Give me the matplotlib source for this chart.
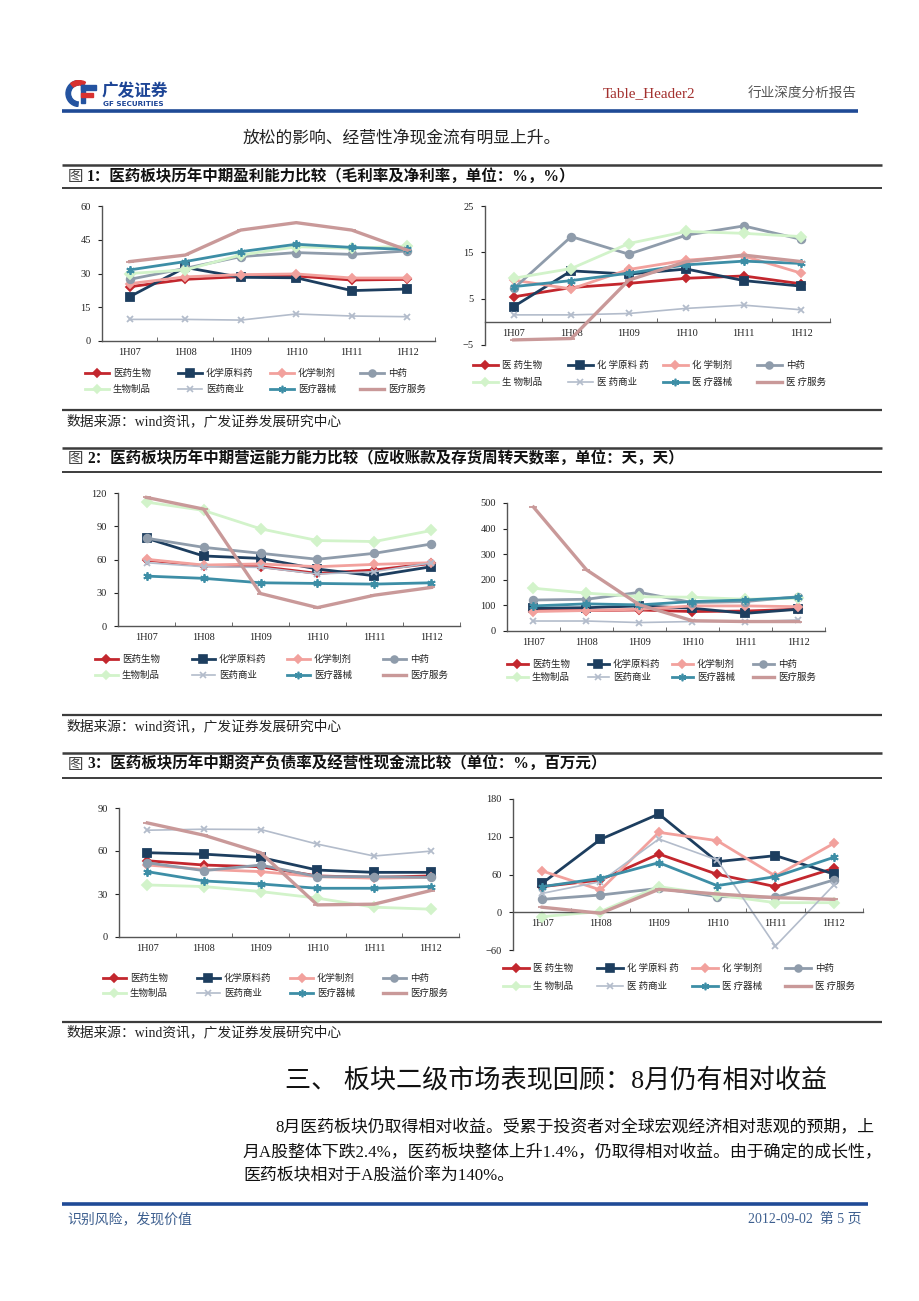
import numpy as np
import matplotlib.pyplot as plt
from matplotlib.lines import Line2D
from matplotlib.patches import Wedge, Rectangle

plt.rcParams['font.family'] = ['Liberation Serif', 'Noto Sans CJK SC', 'DejaVu Sans']

W, H = 920, 1301

periods = ['1H07', '1H08', '1H09', '1H10', '1H11', '1H12']
sectors = ['医药生物', '化学原料药', '化学制剂', '中药', '生物制品', '医药商业', '医疗器械', '医疗服务']
# some legends in the source have stray spaces
sectors_spaced = ['医 药生物', '化 学原料 药', '化 学制剂', '中药', '生 物制品', '医 药商业', '医 疗器械', '医 疗服务']

# 图1 left: gross margin %
gross_margin = [
    [24.1, 27.4, 28.6, 28.9, 27.1, 27.4],
    [19.7, 32.7, 28.3, 28.1, 22.4, 23.1],
    [25.5, 28.5, 29.5, 29.8, 28.0, 28.0],
    [27.4, 32.3, 37.5, 39.3, 38.5, 40.0],
    [30.0, 31.6, 38.2, 41.9, 41.2, 42.2],
    [9.6, 9.6, 9.3, 12.0, 11.1, 10.8],
    [31.6, 35.3, 39.7, 43.0, 41.6, 40.7],
    [35.3, 38.2, 49.3, 52.6, 49.3, 40.4],
]
# 图1 right: net margin %
net_margin = [
    [5.4, 7.4, 8.3, 9.4, 9.9, 8.2],
    [3.3, 11.0, 10.3, 11.4, 8.9, 7.7],
    [9.0, 7.1, 11.3, 13.3, 14.2, 10.5],
    [7.2, 18.4, 14.6, 18.7, 20.7, 17.8],
    [9.4, 11.5, 16.9, 19.5, 19.1, 18.4],
    [1.5, 1.5, 1.8, 2.9, 3.6, 2.6],
    [7.6, 8.9, 10.5, 12.3, 13.1, 12.6],
    [-3.9, -3.6, 9.0, 13.0, 14.4, 13.0],
]
# 图2 left: receivable turnover days
receivable_days = [
    [59.5, 54.4, 53.5, 47.5, 50.5, 56.5],
    [79.2, 63.2, 61.0, 51.4, 45.3, 53.5],
    [60.2, 55.0, 56.0, 53.5, 55.6, 57.1],
    [79.2, 71.0, 65.6, 60.2, 65.6, 74.0],
    [111.8, 104.3, 87.7, 77.1, 76.2, 86.2],
    [57.1, 53.5, 52.9, 46.9, 49.0, 57.0],
    [45.0, 43.0, 39.0, 38.4, 37.8, 39.0],
    [116.0, 105.5, 29.3, 16.6, 27.8, 34.8],
]
# 图2 right: inventory turnover days
inventory_days = [
    [80, 80, 82, 76, 78, 85],
    [89, 91, 98, 89, 69, 85],
    [76, 80, 85, 98, 98, 95],
    [121, 124, 151, 111, 115, 134],
    [167, 148, 134, 132, 124, 128],
    [39, 39, 33, 37, 37, 43],
    [98, 106, 102, 115, 121, 132],
    [484, 239, 102, 40, 37, 37],
]
# 图3 left: debt ratio %
debt_ratio = [
    [53.2, 50.2, 49.0, 42.6, 41.6, 42.6],
    [58.8, 57.8, 55.5, 46.7, 45.1, 45.1],
    [50.2, 47.2, 45.6, 42.1, 41.0, 41.6],
    [51.8, 46.3, 50.2, 42.1, 42.1, 41.6],
    [36.3, 35.2, 31.7, 27.1, 20.8, 19.4],
    [74.5, 75.2, 75.0, 64.8, 56.5, 59.9],
    [45.6, 39.1, 37.0, 34.0, 34.0, 35.2],
    [79.6, 71.0, 58.8, 22.4, 22.9, 32.4],
]
# 图3 right: operating cash flow, 百万元
cash_flow = [
    [40.7, 51.3, 92.6, 60.3, 40.7, 69.8],
    [46.0, 115.9, 156.2, 80.4, 90.0, 60.8],
    [65.6, 35.4, 127.0, 113.8, 57.6, 109.5],
    [20.5, 27.4, 38.0, 24.9, 23.8, 51.3],
    [-6.9, 1.1, 40.7, 27.4, 15.2, 15.2],
    [30.0, 48.6, 116.4, 83.0, -53.6, 43.3],
    [40.7, 53.9, 78.8, 42.3, 56.6, 87.3],
    [8.0, -1.6, 36.4, 29.0, 23.2, 20.5],
]

colors = ['#c3272e', '#1d3e5f', '#f2a19d', '#8f9cab', '#d2f3ca', '#b3bccb', '#3d8ea6', '#c99999']
markers = ['D', 's', 'D', 'o', 'D', 'x', (6, 2, 0), '_']
msizes = [4, 6, 4, 5.5, 5, 5, 6, 6]
lwidths = [2, 2, 2, 2, 2, 1.2, 2, 2.4]

fig = plt.figure(figsize=(9.2, 13.01), dpi=100)


def fx(x):
    return x / W


def fy(y):
    return 1 - y / H


def hline(y, x0, x1, lw, color):
    fig.add_artist(Line2D([fx(x0), fx(x1)], [fy(y), fy(y)], lw=lw, color=color,
                          transform=fig.transFigure, solid_capstyle='butt'))


def chart(left, right, top, bottom, data, ylim, yticks, zero_axis=False):
    ax = fig.add_axes([fx(left), fy(bottom), (right - left) / W, (bottom - top) / H])
    x = np.arange(len(periods))
    for i, vals in enumerate(data):
        ax.plot(x, vals, color=colors[i], lw=lwidths[i], marker=markers[i], ms=msizes[i],
                mfc=colors[i], mec=colors[i], mew=1.3, zorder=2 + i * 0.1)
    ax.set_xlim(-0.5, 5.5)
    ax.set_ylim(*ylim)
    ax.set_yticks(yticks)
    ax.set_xticks(x)
    ax.set_xticklabels(periods)
    ax.set_xticks(np.arange(-0.5, 6), minor=True)
    for s in ['top', 'right']:
        ax.spines[s].set_visible(False)
    for s in ['left', 'bottom']:
        ax.spines[s].set_color('#555555')
        ax.spines[s].set_linewidth(1)
    if zero_axis:
        ax.spines['bottom'].set_position(('data', 0))
    ax.tick_params(axis='x', which='major', length=0, pad=5, labelsize=7.5, colors='#222222')
    ax.tick_params(axis='x', which='minor', length=3, direction='in', color='#555555')
    ax.tick_params(axis='y', length=3, pad=5, labelsize=7.5, colors='#222222')
    ax.patch.set_alpha(0)
    return ax


def legend(line_x, text_dx, rows_y, labels):
    for i, lab in enumerate(labels):
        r, c = divmod(i, 4)
        x0 = line_x[c]
        y0 = rows_y[r]
        L = text_dx - 4
        fig.add_artist(Line2D([fx(x0), fx(x0 + L / 2), fx(x0 + L)], [fy(y0)] * 3,
                              transform=fig.transFigure, color=colors[i], lw=lwidths[i],
                              marker=markers[i], ms=msizes[i] * 0.9, markevery=[1],
                              mfc=colors[i], mec=colors[i], mew=1.2))
        fig.text(fx(x0 + text_dx), fy(y0), lab, fontsize=6.8, va='center', ha='left',
                 color='#222222', family=['Noto Sans CJK SC', 'DejaVu Sans'])


# ---- header ----
logo = fig.add_axes([fx(64), fy(107), 38 / W, 27 / H])
logo.set_xlim(0, 38)
logo.set_ylim(0, 27)
logo.axis('off')
logo.add_patch(Wedge((15, 13.5), 13, 95, 265, width=4.5, color='#2453a0'))
logo.add_patch(Wedge((15, 13.5), 13, 60, 130, width=4.5, color='#d8312f'))
logo.add_patch(Rectangle((17, 4), 4.5, 18, color='#2453a0'))
logo.add_patch(Rectangle((17, 17.5), 15, 4.5, color='#2453a0'))
logo.add_patch(Rectangle((17, 10.5), 12, 4, color='#d8312f'))
fig.text(fx(102), fy(91.5), '广发证券', fontsize=12, weight='bold', color='#1d4596',
         va='center', ha='left', family=['Noto Sans CJK SC'])
fig.text(fx(103), fy(104), 'GF SECURITIES', fontsize=5.2, weight='bold', color='#1d4596',
         va='center', ha='left', family=['DejaVu Sans'])
fig.text(fx(603), fy(94), 'Table_Header2', fontsize=11, color='#a3302e', va='center', ha='left')
fig.text(fx(748), fy(94), '行业深度分析报告', fontsize=9.8, color='#555555', va='center', ha='left',
         family=['Noto Sans CJK SC'])
hline(110.5, 62, 858, 2.6, '#1f4a96')

fig.text(fx(243), fy(138), '放松的影响、经营性净现金流有明显上升。', fontsize=12.1, color='#222222',
         va='center', ha='left', family=['Noto Sans CJK SC'])


def title_block(y_top, y_text, y_bot, num, text):
    hline(y_top, 62, 882, 1.8, '#3c3c3c')
    hline(y_bot, 62, 882, 1.4, '#3c3c3c')
    fig.text(fx(68), fy(y_text), '图', fontsize=11.2, color='#444444', va='center', ha='left',
             family=['Noto Sans CJK SC'])
    fig.text(fx(87), fy(y_text), num + '：' + text, fontsize=11.2, weight='bold', color='#111111',
             va='center', ha='left', family=['Liberation Serif', 'Noto Sans CJK SC'])


def source_block(y_rule, y_text):
    hline(y_rule, 62, 882, 1.6, '#3c3c3c')
    fig.text(fx(67), fy(y_text), '数据来源：wind资讯，广发证券发展研究中心', fontsize=9.9,
             color='#222222', va='center', ha='left')


# ---- figure 1 ----
title_block(165, 176.5, 188, '1', '医药板块历年中期盈利能力比较（毛利率及净利率，单位：%，%）')
chart(102, 435, 206, 341, gross_margin, (0, 60), [0, 15, 30, 45, 60])
legend([85, 178, 270, 360], 28, [373, 389], sectors)
chart(485, 830, 206, 345, net_margin, (-5, 25), [-5, 5, 15, 25], zero_axis=True)
legend([473, 568, 663, 757], 29, [365, 382], sectors_spaced)
source_block(410, 421)

# ---- figure 2 ----
title_block(448, 458.5, 472, '2', '医药板块历年中期营运能力能力比较（应收账款及存货周转天数率，单位：天，天）')
chart(118, 460, 493, 626, receivable_days, (0, 120), [0, 30, 60, 90, 120])
legend([95, 192, 287, 383], 27, [659, 675], sectors)
chart(507, 825, 503, 631, inventory_days, (0, 500), [0, 100, 200, 300, 400, 500])
legend([507, 588, 672, 753], 25, [664, 677], sectors)
source_block(715, 726)

# ---- figure 3 ----
title_block(753, 764, 777.5, '3', '医药板块历年中期资产负债率及经营性现金流比较（单位：%，百万元）')
chart(119, 459, 808, 937, debt_ratio, (0, 90), [0, 30, 60, 90])
legend([103, 197, 290, 383], 27, [978, 993], sectors)
chart(513, 863, 799, 950, cash_flow, (-60, 180), [-60, 0, 60, 120, 180], zero_axis=True)
legend([503, 597, 692, 785], 30, [968, 986], sectors_spaced)
source_block(1022, 1032)

# ---- section text ----
fig.text(fx(285), fy(1080), '三、 板块二级市场表现回顾：8月仍有相对收益', fontsize=18.8, color='#111111',
         va='center', ha='left')
para = ['8月医药板块仍取得相对收益。受累于投资者对全球宏观经济相对悲观的预期，上',
        '月A股整体下跌2.4%，医药板块整体上升1.4%，仍取得相对收益。由于确定的成长性，',
        '医药板块相对于A股溢价率为140%。']
fig.text(fx(275), fy(1128), para[0], fontsize=12.2, color='#111111', va='center', ha='left')
fig.text(fx(243), fy(1153), para[1], fontsize=12.2, color='#111111', va='center', ha='left')
fig.text(fx(243), fy(1176), para[2], fontsize=12.2, color='#111111', va='center', ha='left')

# ---- footer ----
hline(1204, 62, 868, 2.6, '#1f4a96')
fig.text(fx(67), fy(1219), '识别风险，发现价值', fontsize=10, color='#3d5f8f', va='center', ha='left')
fig.text(fx(862), fy(1219), '2012-09-02  第 5 页', fontsize=10, color='#3d5f8f', va='center', ha='right')

fig.savefig('out.png', dpi=100)
